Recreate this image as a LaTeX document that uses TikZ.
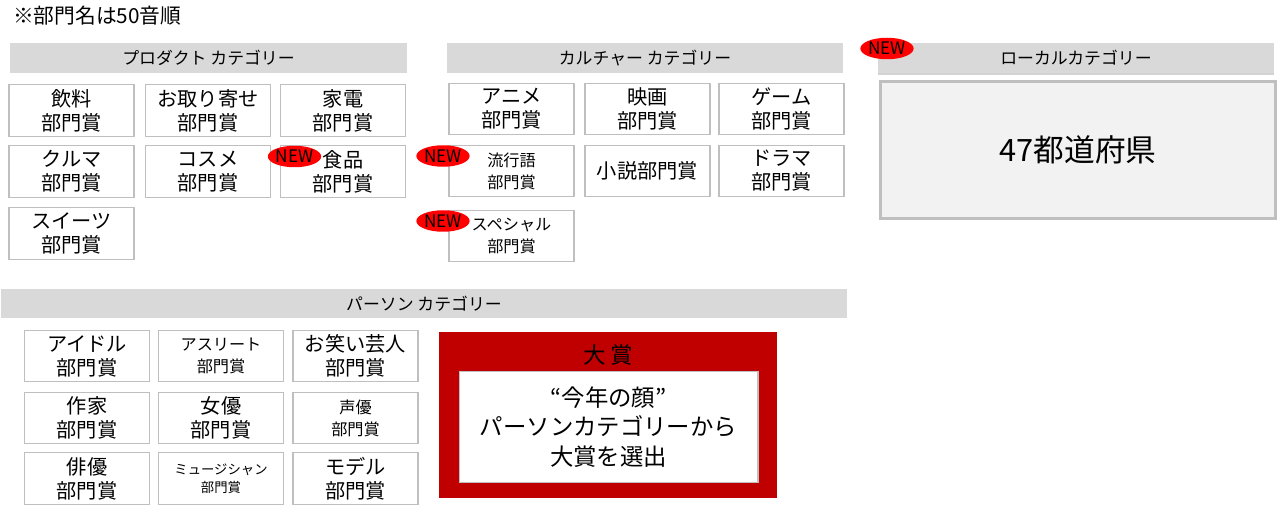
\documentclass[tikz,border=0pt]{standalone}
\usepackage{fontspec}
\setmainfont{Noto Sans CJK JP}
\usepackage{tikz}
\usetikzlibrary{positioning,shapes.geometric,shadows}
\usepackage{xcolor}
\definecolor{bargray}{HTML}{D9D9D9}
\definecolor{boxgray}{HTML}{BFBFBF}
\definecolor{localfill}{HTML}{F2F2F2}
\definecolor{grandred}{HTML}{C00000}

\begin{document}
\begin{tikzpicture}[
  x=0.02cm,y=-0.02cm,
  award/.style={
    draw=boxgray, line width=0.6pt, fill=white,
    minimum width=2.5cm, minimum height=1.03cm,
    align=center, inner sep=0pt,
    font=\fontsize{11.5}{13.6}\selectfont,
    },
  small/.style={font=\fontsize{9.2}{12.4}\selectfont},
  tiny/.style={font=\fontsize{7.6}{10}\selectfont},
  bar/.style={
    fill=bargray, minimum width=#1, minimum height=0.6cm,
    inner sep=0pt, font=\fontsize{9.6}{10}\selectfont,
    },
  newmark/.style={
    ellipse, fill=red, minimum width=0.98cm, minimum height=0.43cm,
    inner sep=0pt, font=\fontsize{9.8}{10}\selectfont,
    },
  ]
  \useasboundingbox (0,0) rectangle (1280,513);

  \node[anchor=west,font=\fontsize{11.8}{13}\selectfont]
    (note) at (7,16) {※部門名は50音順};

  % product
  \node[bar=7.94cm] (prodbar) at (208.5,58) {プロダクト カテゴリー};
  \node[award] (drink)  at (71.5,110.5) {飲料\\部門賞};
  \node[award] (order)  at (208,110.5) {お取り寄せ\\部門賞};
  \node[award] (appl)   at (343,110.5) {家電\\部門賞};
  \node[award] (car)    at (71.5,171.5) {クルマ\\部門賞};
  \node[award] (cosme)  at (208,171.5) {コスメ\\部門賞};
  \node[award] (food)   at (343,171.5) {食品\\部門賞};
  \node[award] (sweets) at (71.5,233.5) {スイーツ\\部門賞};
  \node[newmark] (newfood) at (294.5,156.5) {NEW};

  % culture
  \node[bar=7.92cm] (cultbar) at (645,58) {カルチャー カテゴリー};
  \node[award] (anime)  at (511.5,109) {アニメ\\部門賞};
  \node[award] (movie)  at (647.5,109) {映画\\部門賞};
  \node[award] (game)   at (781.5,109) {ゲーム\\部門賞};
  \node[award,small] (buzz) at (511.5,171) {流行語\\部門賞};
  \node[award] (novel)  at (647.5,171) {小説部門賞};
  \node[award] (drama)  at (781.5,171) {ドラマ\\部門賞};
  \node[award,small] (special) at (511.5,236) {スペシャル\\部門賞};
  \node[newmark] (newbuzz) at (443,156) {NEW};
  \node[newmark] (newspec) at (443,221) {NEW};

  % local
  \node[bar=7.92cm,drop shadow={shadow xshift=0pt,shadow yshift=-1.2pt,opacity=0.35}]
    (localbar) at (1076,58) {ローカルカテゴリー};
  \node[draw=boxgray, line width=1.7pt, fill=localfill,
    minimum width=7.9cm, minimum height=2.75cm, inner sep=0pt,
    font=\fontsize{17.5}{20}\selectfont]
    (pref) at (1078,150) {47都道府県};
  \node[newmark] (newlocal) at (887,48.5) {NEW};

  % person
  \node[bar=16.92cm] (persbar) at (424,303.5) {パーソン カテゴリー};
  \node[award] (idol)    at (87,356) {アイドル\\部門賞};
  \node[award,small] (athlete) at (221,356) {アスリート\\部門賞};
  \node[award] (comedian) at (355.5,356) {お笑い芸人\\部門賞};
  \node[award] (writer)  at (87,418) {作家\\部門賞};
  \node[award] (actress) at (221,418) {女優\\部門賞};
  \node[award,small] (voice) at (355.5,418) {声優\\部門賞};
  \node[award] (actor)   at (87,478.5) {俳優\\部門賞};
  \node[award,tiny] (musician) at (221,478.5) {ミュージシャン\\部門賞};
  \node[award] (model)   at (355.5,478.5) {モデル\\部門賞};

  % grand prize
  \node[fill=grandred, minimum width=6.76cm, minimum height=3.32cm, inner sep=0pt]
    (grand) at (608,415) {};
  \node[font=\fontsize{12.8}{13}\selectfont] (grandtitle) at (608,355) {大 賞};
  \node[draw=boxgray, line width=0.6pt, fill=white,
    minimum width=5.98cm, minimum height=2.22cm, inner sep=0pt, align=center,
    font=\fontsize{13.3}{16.6}\selectfont]
    (grandtext) at (608.5,427) {“今年の顔”\\パーソンカテゴリーから\\大賞を選出};
\end{tikzpicture}
\end{document}
